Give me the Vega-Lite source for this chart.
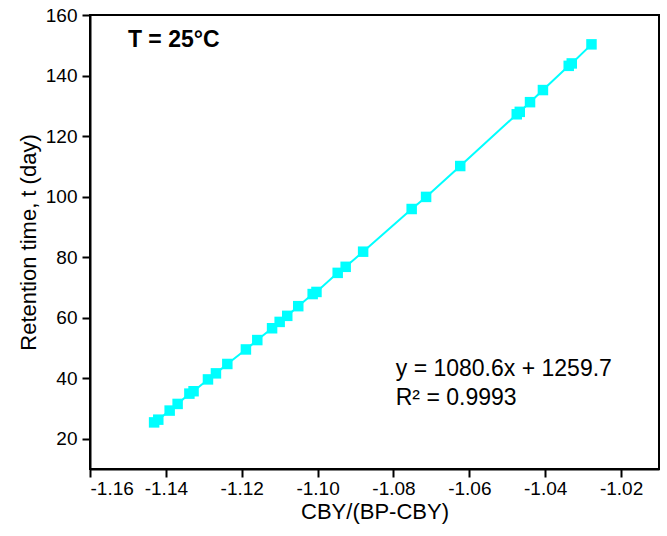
{
  "$schema": "https://vega.github.io/schema/vega-lite/v6.json",
  "width": 569,
  "height": 454,
  "autosize": {"type": "none"},
  "padding": {"left": 90, "top": 15, "right": 8, "bottom": 67},
  "background": "white",
  "config": {
    "font": "Liberation Sans",
    "view": {"stroke": "black", "strokeWidth": 2},
    "axis": {
      "grid": false,
      "domainColor": "black",
      "domainWidth": 2,
      "tickColor": "black",
      "tickWidth": 2,
      "tickSize": 8,
      "labelFont": "Liberation Sans",
      "labelFontSize": 19,
      "labelColor": "black",
      "titleFont": "Liberation Sans",
      "titleFontSize": 22,
      "titleFontWeight": "normal",
      "titleColor": "black"
    }
  },
  "datasets": {
    "pts": [
      {"x": -1.1431, "t": 25.4},
      {"x": -1.1420, "t": 26.3},
      {"x": -1.1390, "t": 29.3},
      {"x": -1.1369, "t": 31.5},
      {"x": -1.1338, "t": 34.9},
      {"x": -1.1327, "t": 35.7},
      {"x": -1.1289, "t": 39.6},
      {"x": -1.1268, "t": 41.6},
      {"x": -1.1238, "t": 44.7},
      {"x": -1.1189, "t": 49.5},
      {"x": -1.1159, "t": 52.6},
      {"x": -1.1120, "t": 56.5},
      {"x": -1.1100, "t": 58.6},
      {"x": -1.1080, "t": 60.6},
      {"x": -1.1051, "t": 63.8},
      {"x": -1.1013, "t": 67.8},
      {"x": -1.1003, "t": 68.5},
      {"x": -1.0947, "t": 74.8},
      {"x": -1.0926, "t": 76.8},
      {"x": -1.0880, "t": 81.8},
      {"x": -1.0752, "t": 95.9},
      {"x": -1.0714, "t": 99.9},
      {"x": -1.0624, "t": 110.1},
      {"x": -1.0475, "t": 127.2},
      {"x": -1.0467, "t": 128.0},
      {"x": -1.0440, "t": 131.2},
      {"x": -1.0406, "t": 135.2},
      {"x": -1.0338, "t": 143.2},
      {"x": -1.0330, "t": 144.0},
      {"x": -1.0278, "t": 150.3}
    ],
    "notes": [
      {"x": -1.1500, "t": 151.7, "label": "T = 25°C", "w": "bold"},
      {"x": -1.0794, "t": 43.2, "label": "y = 1080.6x + 1259.7", "w": "normal"},
      {"x": -1.0794, "t": 33.3, "label": "R² = 0.9993", "w": "normal"}
    ]
  },
  "layer": [
    {
      "data": {"name": "pts"},
      "mark": {"type": "line", "color": "#00FFFF", "strokeWidth": 2},
      "encoding": {
        "x": {
          "field": "x", "type": "quantitative",
          "scale": {"domain": [-1.16, -1.01], "nice": false, "zero": false},
          "axis": {"values": [-1.16, -1.14, -1.12, -1.10, -1.08, -1.06, -1.04, -1.02], "format": ".2f", "labelExpr": "replace(datum.label, '−', '-')", "title": "CBY/(BP-CBY)", "titlePadding": 3, "labelPadding": 2}
        },
        "y": {
          "field": "t", "type": "quantitative",
          "scale": {"domain": [10, 160], "nice": false, "zero": false},
          "axis": {"values": [20, 40, 60, 80, 100, 120, 140, 160], "title": "Retention time, t (day)", "titlePadding": 5, "labelPadding": 5}
        }
      }
    },
    {
      "data": {"name": "pts"},
      "mark": {"type": "point", "shape": "square", "filled": true, "color": "#00FFFF", "size": 110, "opacity": 1},
      "encoding": {
        "x": {"field": "x", "type": "quantitative"},
        "y": {"field": "t", "type": "quantitative"}
      }
    },
    {
      "data": {"name": "notes"},
      "transform": [{"filter": "datum.w === 'bold'"}],
      "mark": {"type": "text", "align": "left", "baseline": "middle", "fontSize": 23, "fontWeight": "bold", "color": "black", "font": "Liberation Sans"},
      "encoding": {
        "x": {"field": "x", "type": "quantitative"},
        "y": {"field": "t", "type": "quantitative"},
        "text": {"field": "label"}
      }
    },
    {
      "data": {"name": "notes"},
      "transform": [{"filter": "datum.w === 'normal'"}],
      "mark": {"type": "text", "align": "left", "baseline": "middle", "fontSize": 23, "color": "black", "font": "Liberation Sans"},
      "encoding": {
        "x": {"field": "x", "type": "quantitative"},
        "y": {"field": "t", "type": "quantitative"},
        "text": {"field": "label"}
      }
    }
  ]
}
